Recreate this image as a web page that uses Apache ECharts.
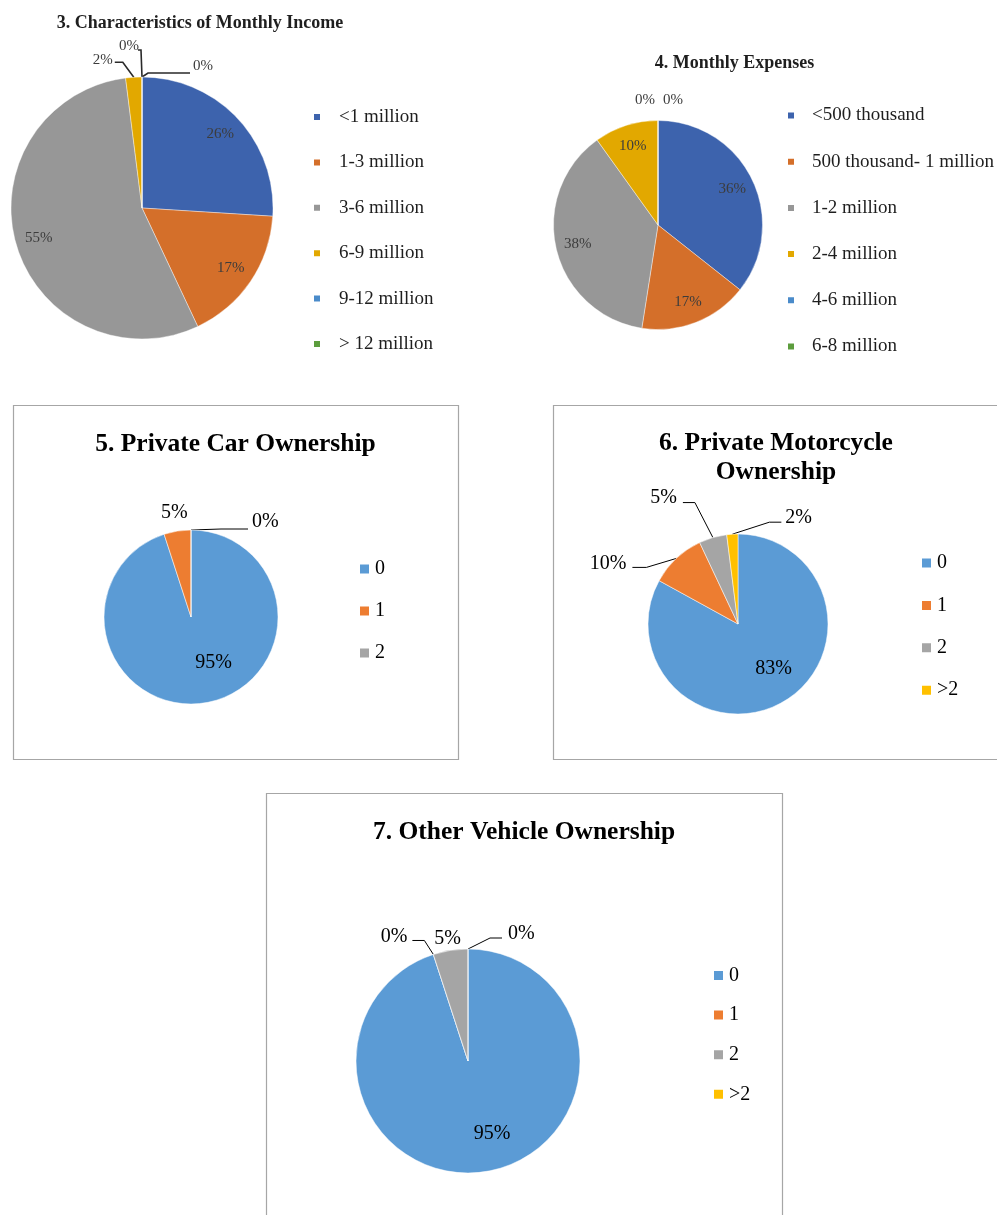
<!DOCTYPE html>
<html>
<head>
<meta charset="utf-8">
<script src="https://cdn.jsdelivr.net/npm/echarts@6/dist/echarts.min.js"></script>
<style>
  html, body { margin: 0; padding: 0; background: #fff; }
  #top { position: absolute; left: 0; top: 0; width: 997px; height: 380px; filter: blur(0.45px); }
  #bottom { position: absolute; left: 0; top: 380px; width: 997px; height: 835px; }
</style>
</head>
<body>
<div id="top"></div>
<div id="bottom"></div>
<script>
// ---- Data ----
const incomeCategories = ['<1 million', '1-3 million', '3-6 million', '6-9 million', '9-12 million', '> 12 million'];
const incomeValues = [26, 17, 55, 2, 0, 0];

const expenseCategories = ['<500 thousand', '500 thousand- 1 million', '1-2 million', '2-4 million', '4-6 million', '6-8 million'];
const expenseValues = [36, 17, 38, 10, 0, 0];

const carCategories = ['0', '1', '2'];
const carValues = [95, 5, 0];

const motorCategories = ['0', '1', '2', '>2'];
const motorValues = [83, 10, 5, 2];

const otherCategories = ['0', '1', '2', '>2'];
const otherValues = [95, 0, 5, 0];

// ---- Styles ----
const oldPalette = ['#3d63ad', '#d46f2a', '#979797', '#e2a800', '#4a8bca', '#5c9d3d'];
const newPalette = ['#5b9bd5', '#ed7d31', '#a5a5a5', '#ffc000'];
const SERIF = '"Liberation Serif", "Times New Roman", "DejaVu Serif", serif';

// Mid angle of slice i, measured clockwise from 12 o'clock (radians)
function midAngle(values, i) {
  const total = values.reduce((a, b) => a + b, 0);
  let before = 0;
  for (let k = 0; k < i; k++) before += values[k];
  return (before + values[i] / 2) / total * Math.PI * 2;
}

// Callout layout: inside labels sit at a fraction of the radius (with an
// optional nudge); callouts start on the rim at the slice's mid angle, bend
// at an elbow, then run flat towards the text.
function calloutLayout(center, radius, values, callouts, innerRatio) {
  return function (p) {
    const i = p.dataIndex;
    const a = midAngle(values, i);
    const sx = Math.sin(a), cy = Math.cos(a);
    const c = callouts[i];
    if (!c || c.nudge) {
      const n = (c && c.nudge) || [0, 0];
      return {
        x: center[0] + radius * innerRatio * sx + n[0],
        y: center[1] - radius * innerRatio * cy + n[1],
        align: 'center', verticalAlign: 'middle'
      };
    }
    const ax = center[0] + radius * sx, ay = center[1] - radius * cy;
    if (!c.elbow) {
      return { x: ax + c.text[0], y: ay + c.text[1], align: 'center', verticalAlign: 'middle' };
    }
    const ex = ax + c.elbow[0], ey = ay + c.elbow[1];
    const tx = ex + c.run, ty = ey;
    return {
      x: tx + c.text[0], y: ty + c.text[1],
      align: c.run < 0 ? 'right' : 'left', verticalAlign: 'middle',
      labelLinePoints: [[ax, ay], [ex, ey], [tx, ty]]
    };
  };
}

function buildData(names, values, palette, callouts) {
  return names.map((n, i) => {
    const c = callouts[i];
    const outside = !!(c && !c.nudge);
    const item = { name: n, value: values[i], itemStyle: { color: palette[i] } };
    item.label = { position: outside ? 'outside' : 'inside' };
    item.labelLine = { show: !!(outside && c.elbow) };
    return item;
  });
}

// ---- Top row: income and expenses ----
const topChart = echarts.init(document.getElementById('top'), null, { renderer: 'canvas' });
const oldLabel = { fontFamily: SERIF, fontSize: 15, color: '#3c3c3c', formatter: '{c}%' };
const oldTitle = { fontFamily: SERIF, fontSize: 18, fontWeight: 'bold', color: '#1e1e1e' };

const incomeCenter = [142, 208], incomeRadius = 131;
const incomeCallouts = {
  3: { elbow: [-11, -15], run: -8, text: [-2, -2] },
  4: { elbow: [-1, -27], run: -3, text: [1, -4] },
  5: { elbow: [6, -4], run: 42, text: [3, -7] }
};
const expenseCenter = [658, 225], expenseRadius = 104.5;
const expenseCallouts = {
  4: { text: [-13, -20] },
  5: { text: [15, -20] }
};

topChart.setOption({
  animation: false,
  title: [
    { text: '3. Characteristics of Monthly Income', left: 195, top: 9, textAlign: 'center', textStyle: oldTitle },
    { text: '4. Monthly Expenses', left: 729.5, top: 49, textAlign: 'center', textStyle: oldTitle }
  ],
  legend: [
    { data: incomeCategories, orient: 'vertical', left: 312, top: 107.5, padding: 0,
      icon: 'rect', itemWidth: 8, itemHeight: 8, itemGap: 26.4, selectedMode: false,
      textStyle: { fontFamily: SERIF, fontSize: 19, lineHeight: 16, color: '#1e1e1e', padding: [0, 0, 0, 13] } },
    { data: expenseCategories, orient: 'vertical', left: 786, top: 106, padding: 0,
      icon: 'rect', itemWidth: 8, itemHeight: 8, itemGap: 27.2, selectedMode: false,
      textStyle: { fontFamily: SERIF, fontSize: 19, lineHeight: 16, color: '#1e1e1e', padding: [0, 0, 0, 12] } }
  ],
  series: [
    { type: 'pie', center: incomeCenter, radius: incomeRadius, startAngle: 90, clockwise: true,
      avoidLabelOverlap: false,
      label: oldLabel,
      labelLine: { lineStyle: { color: '#2a2a2a', width: 1.6 } },
      labelLayout: calloutLayout(incomeCenter, incomeRadius, incomeValues, incomeCallouts, 0.82),
      itemStyle: { borderColor: '#fff', borderWidth: 0.4 },
      data: buildData(incomeCategories, incomeValues, oldPalette, incomeCallouts) },
    { type: 'pie', center: expenseCenter, radius: expenseRadius, startAngle: 90, clockwise: true,
      avoidLabelOverlap: false,
      label: oldLabel,
      labelLayout: calloutLayout(expenseCenter, expenseRadius, expenseValues, expenseCallouts, 0.79),
      itemStyle: { borderColor: '#fff', borderWidth: 0.4 },
      data: buildData(expenseCategories, expenseValues, oldPalette, expenseCallouts) }
  ]
});

// ---- Bottom: vehicle ownership ----
const botChart = echarts.init(document.getElementById('bottom'), null, { renderer: 'canvas' });
const newLabel = { fontFamily: SERIF, fontSize: 20, color: '#000', formatter: '{c}%' };
const newLegendText = { fontFamily: SERIF, fontSize: 20, lineHeight: 20, color: '#000' };
const titleText = { fontFamily: SERIF, fontSize: 25.5, fontWeight: 'bold', color: '#000', lineHeight: 29 };
const frameStyle = { fill: 'none', stroke: '#a6a6a6', lineWidth: 1.2 };
const leader = { lineStyle: { color: '#000', width: 1 } };

const carCenter = [191, 237], carRadius = 87;
const carCallouts = {
  0: { nudge: [15, -2] },
  1: { text: [-3, -18] },
  2: { elbow: [30, -1], run: 27, text: [4, -7] }
};
const motorCenter = [738, 244], motorRadius = 90;
const motorCallouts = {
  0: { nudge: [8, -2] },
  1: { elbow: [-30, 9], run: -14, text: [-6, -4] },
  2: { elbow: [-18, -35], run: -12, text: [-6, -5] },
  3: { elbow: [37, -12], run: 12, text: [4, -4] }
};
const otherCenter = [468, 681], otherRadius = 112;
const otherCallouts = {
  0: { nudge: [13, 3] },
  1: { elbow: [-9, -14], run: -12, text: [-5, -4] },
  2: { text: [-3, -12] },
  3: { elbow: [22, -11], run: 12, text: [6, -4] }
};

botChart.setOption({
  animation: false,
  graphic: [
    { type: 'rect', shape: { x: 13.5, y: 25.5, width: 445, height: 354 }, style: frameStyle, silent: true },
    { type: 'rect', shape: { x: 553.5, y: 25.5, width: 460, height: 354 }, style: frameStyle, silent: true },
    { type: 'rect', shape: { x: 266.5, y: 413.5, width: 516, height: 460 }, style: frameStyle, silent: true }
  ],
  title: [
    { text: '5. Private Car Ownership', left: 230.5, top: 45, textAlign: 'center', textStyle: titleText },
    { text: '6. Private Motorcycle\nOwnership', left: 771, top: 44, textAlign: 'center', textStyle: titleText },
    { text: '7. Other Vehicle Ownership', left: 519, top: 433, textAlign: 'center', textStyle: titleText }
  ],
  legend: [
    { data: carCategories, orient: 'vertical', left: 358, top: 179, padding: 0,
      icon: 'rect', itemWidth: 11, itemHeight: 11, itemGap: 22, textStyle: newLegendText, selectedMode: false },
    { data: motorCategories, orient: 'vertical', left: 920, top: 173, padding: 0,
      icon: 'rect', itemWidth: 11, itemHeight: 11, itemGap: 22.4, textStyle: newLegendText, selectedMode: false },
    { data: otherCategories, orient: 'vertical', left: 712, top: 585.5, padding: 0,
      icon: 'rect', itemWidth: 11, itemHeight: 11, itemGap: 19.6, textStyle: newLegendText, selectedMode: false }
  ],
  series: [
    { type: 'pie', center: carCenter, radius: carRadius, startAngle: 90, avoidLabelOverlap: false,
      label: newLabel, labelLine: leader,
      labelLayout: calloutLayout(carCenter, carRadius, carValues, carCallouts, 0.55),
      itemStyle: { borderColor: '#fff', borderWidth: 0.5 },
      data: buildData(carCategories, carValues, newPalette, carCallouts) },
    { type: 'pie', center: motorCenter, radius: motorRadius, startAngle: 90, avoidLabelOverlap: false,
      label: newLabel, labelLine: leader,
      labelLayout: calloutLayout(motorCenter, motorRadius, motorValues, motorCallouts, 0.6),
      itemStyle: { borderColor: '#fff', borderWidth: 0.5 },
      data: buildData(motorCategories, motorValues, newPalette, motorCallouts) },
    { type: 'pie', center: otherCenter, radius: otherRadius, startAngle: 90, avoidLabelOverlap: false,
      label: newLabel, labelLine: leader,
      labelLayout: calloutLayout(otherCenter, otherRadius, otherValues, otherCallouts, 0.63),
      itemStyle: { borderColor: '#fff', borderWidth: 0.5 },
      data: buildData(otherCategories, otherValues, newPalette, otherCallouts) }
  ]
});
</script>
</body>
</html>
